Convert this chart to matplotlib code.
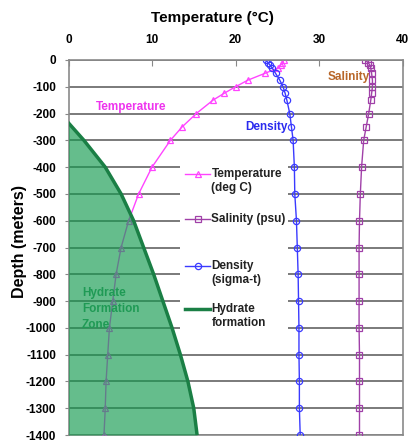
import matplotlib
matplotlib.use("Agg")
import matplotlib.pyplot as plt
from matplotlib.patches import Rectangle
from matplotlib.lines import Line2D

plt.rcParams['font.family'] = ['Liberation Sans', 'DejaVu Sans']
plt.rcParams['font.weight'] = 'bold'
plt.rcParams['axes.unicode_minus'] = False

# ---- data ----
depth = [0, -10, -20, -30, -50, -75, -100, -125, -150, -200, -250, -300,
         -400, -500, -600, -700, -800, -900, -1000, -1100, -1200, -1300, -1400]
temperature = [25.8, 25.6, 25.4, 25.1, 23.5, 21.5, 20.0, 18.6, 17.3, 15.3, 13.6, 12.2,
               10.0, 8.4, 7.2, 6.3, 5.7, 5.3, 4.9, 4.7, 4.5, 4.4, 4.25]
salinity = [35.5, 35.9, 36.1, 36.2, 36.3, 36.4, 36.4, 36.3, 36.2, 35.95, 35.65, 35.35,
            35.1, 34.95, 34.85, 34.8, 34.8, 34.8, 34.8, 34.85, 34.85, 34.85, 34.85]
density = [23.6, 23.9, 24.15, 24.4, 24.8, 25.3, 25.7, 25.95, 26.15, 26.5, 26.7, 26.9,
           27.05, 27.1, 27.3, 27.4, 27.5, 27.55, 27.6, 27.6, 27.65, 27.65, 27.75]
hydrate_depth = [-235, -300, -400, -500, -600, -700, -800, -900, -1000, -1100, -1200, -1300, -1400]
hydrate_temp = [0, 1.85, 4.4, 6.3, 7.8, 9.0, 10.2, 11.3, 12.4, 13.4, 14.3, 15.0, 15.4]
x_ticks = [0, 10, 20, 30, 40]
y_ticks = list(range(0, -1500, -100))

c_temp = '#ff44ff'
c_sal = '#a040a8'
c_den = '#3a3aff'
c_hyd = '#1a7f45'
c_fill = '#139a4e'

fig = plt.figure(figsize=(4.08, 4.41), dpi=100)
ax = fig.add_axes([68.5/408, 6/441, 334/408, 375/441])
ax.set_xlim(0, 40)
ax.set_ylim(-1400, 0)

for yv in y_ticks:
    ax.axhline(yv, color='#7a7a7a', lw=1.4, zorder=1)

ax.plot(temperature, depth, color=c_temp, lw=1, marker='^', ms=5,
        mfc='none', mec=c_temp, mew=0.9, zorder=3)
ax.plot(salinity, depth, color=c_sal, lw=1, marker='s', ms=4.5,
        mfc='none', mec=c_sal, mew=0.9, zorder=3)
ax.plot(density, depth, color=c_den, lw=1, marker='o', ms=4.5,
        mfc='none', mec=c_den, mew=0.9, zorder=3)

ax.fill_betweenx(hydrate_depth, 0, hydrate_temp, color=c_fill, alpha=0.65,
                 lw=0, zorder=4)
ax.plot(hydrate_temp, hydrate_depth, color=c_hyd, lw=2.5, zorder=5)

# in-plot labels
ax.text(7.5, -175, 'Temperature', color='#ee33ee', fontsize=8.5, ha='center', va='center', zorder=6)
ax.text(26.3, -250, 'Density', color='#2a2aee', fontsize=8.5, ha='right', va='center', zorder=6)
ax.text(33.6, -63, 'Salinity', color='#b8672a', fontsize=8.5, ha='center', va='center', zorder=6)
for i, t in enumerate(['Hydrate', 'Formation', 'Zone']):
    ax.text(1.6, -870 - 60 * i, t, color='#1f9a55', fontsize=8.5, ha='left', va='center', zorder=6)

# legend (manual, axes coordinates)
ax.add_patch(Rectangle((0.334, 0.253), 0.323, 0.507, transform=ax.transAxes,
                       facecolor='white', edgecolor='none', zorder=7))
entries = [
    (0.696, c_temp, '^', ['Temperature', '(deg C)']),
    (0.576, c_sal, 's', ['Salinity (psu)']),
    (0.451, c_den, 'o', ['Density', '(sigma-t)']),
    (0.336, c_hyd, None, ['Hydrate', 'formation']),
]
for y, col, mk, lines in entries:
    ax.add_line(Line2D([0.349, 0.424], [y, y], transform=ax.transAxes, color=col,
                       lw=1 if mk else 2.5, zorder=8))
    if mk:
        ax.add_line(Line2D([0.3865], [y], transform=ax.transAxes, marker=mk, ms=4.5,
                           mfc='none', mec=col, mew=0.9, lw=0, zorder=8))
    for j, s in enumerate(lines):
        ax.text(0.428, y - 0.037 * j, s, transform=ax.transAxes, fontsize=8.5,
                color='#222222', ha='left', va='center', zorder=9)

# axes styling
ax.xaxis.tick_top()
ax.set_xticks(x_ticks)
ax.set_yticks(y_ticks)
ax.set_yticklabels([str(v) for v in y_ticks])
ax.tick_params(axis='x', direction='in', length=4, pad=10, labelsize=8.5, color='#888888')
ax.tick_params(axis='y', direction='out', length=3, pad=6, labelsize=8.5, color='#888888')
for sp in ax.spines.values():
    sp.set_color('#8a8a8a')
    sp.set_linewidth(1.2)
ax.spines['top'].set_zorder(6)

fig.text(212.5/408, 1 - 18/441, 'Temperature (°C)', fontsize=11, ha='center', va='center')
fig.text(20/408, 1 - 242/441, 'Depth (meters)', fontsize=11.5, ha='center', va='center',
         rotation=90)

fig.savefig('out.png', dpi=100)
